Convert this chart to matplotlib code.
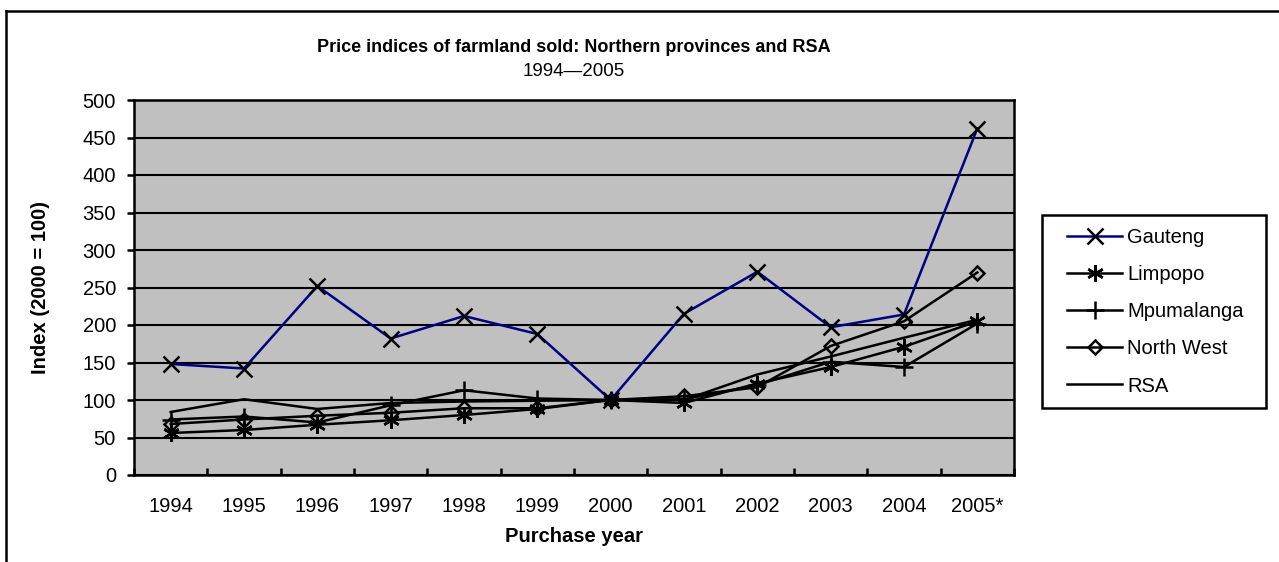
import numpy as np
import matplotlib
matplotlib.use("Agg")
import matplotlib.pyplot as plt
from matplotlib.lines import Line2D
from matplotlib.patches import Rectangle

plt.rcParams['font.family'] = ['Liberation Sans', 'DejaVu Sans']

# data
years = ['1994', '1995', '1996', '1997', '1998', '1999', '2000',
         '2001', '2002', '2003', '2004', '2005*']
gauteng = [148, 142, 252, 182, 212, 188, 100, 215, 271, 197, 214, 462]
limpopo = [56, 60, 67, 73, 80, 88, 100, 96, 122, 144, 171, 205]
mpumalanga = [74, 78, 70, 93, 113, 102, 100, 101, 120, 151, 144, 202]
north_west = [68, 74, 79, 83, 89, 89, 100, 105, 117, 172, 205, 270]
rsa = [84, 101, 88, 96, 98, 99, 100, 100, 134, 158, 183, 207]

W, H = 1279, 562
fig = plt.figure(figsize=(W / 100, H / 100), dpi=100)
ax = fig.add_axes([134 / W, (H - 475) / H, 880 / W, 375 / H])
ax.set_facecolor('#C0C0C0')

x = np.arange(len(years))
lw = 1.8
ax.plot(x, gauteng, color='#000080', lw=lw, marker='x', ms=11, mew=1.8,
        mec='black', label='Gauteng', zorder=5)
ax.plot(x, limpopo, color='black', lw=lw, marker=(6, 2, 0), ms=12, mew=1.8,
        label='Limpopo', zorder=4)
ax.plot(x, mpumalanga, color='black', lw=lw, marker='+', ms=13, mew=1.8,
        label='Mpumalanga', zorder=4)
ax.plot(x, north_west, color='black', lw=lw, marker='D', ms=7.5, mew=1.8,
        mfc='none', label='North West', zorder=4)
ax.plot(x, rsa, color='black', lw=lw, label='RSA', zorder=4)

ax.set_xlim(-0.5, len(years) - 0.5)
ax.set_ylim(0, 500)
ax.set_yticks(range(0, 501, 50))
ax.yaxis.grid(True, color='black', lw=1.5)
ax.set_axisbelow(True)
for s in ax.spines.values():
    s.set_linewidth(1.8)

fs = 14.5
ax.set_xticks(x)
ax.set_xticklabels(years)
ax.set_xticks(np.arange(-0.5, len(years), 1.0), minor=True)
ax.tick_params(axis='x', which='major', length=0, labelsize=fs, pad=16)
ax.tick_params(axis='x', which='minor', direction='in', length=5, width=1.8)
ax.tick_params(axis='y', direction='out', length=5, width=1.8, labelsize=fs, pad=8)

ax.set_xlabel('Purchase year', fontsize=fs, fontweight='bold', labelpad=8)
ax.set_ylabel('Index (2000 = 100)', fontsize=fs, fontweight='bold', labelpad=23)

fig.text(574 / W, 1 - 48 / H, 'Price indices of farmland sold: Northern provinces and RSA',
         ha='center', va='center', fontsize=13, fontweight='bold')
fig.text(574 / W, 1 - 72 / H, '1994\u20142005', ha='center', va='center', fontsize=13.5)

# legend box drawn separately so its size matches the reference
fig.add_artist(Rectangle((1042 / W, 1 - 408 / H), 224 / W, 193 / H,
                         transform=fig.transFigure, facecolor='white',
                         edgecolor='black', lw=1.8, zorder=1))
leg = fig.legend(loc='upper left', bbox_to_anchor=(1067 / W, 1 - 228 / H),
                 fontsize=fs, frameon=False, handlelength=2.75,
                 handletextpad=0.25, labelspacing=0.9, borderpad=0,
                 borderaxespad=0)
leg.set_zorder(2)

# outer chart border (top and left edges visible)
fig.add_artist(Line2D([6 / W, 6 / W], [0, 1 - 11 / H], color='black', lw=1.8,
                      transform=fig.transFigure))
fig.add_artist(Line2D([6 / W, 1], [1 - 11 / H, 1 - 11 / H], color='black', lw=1.8,
                      transform=fig.transFigure))

fig.savefig('out.png', dpi=100)
